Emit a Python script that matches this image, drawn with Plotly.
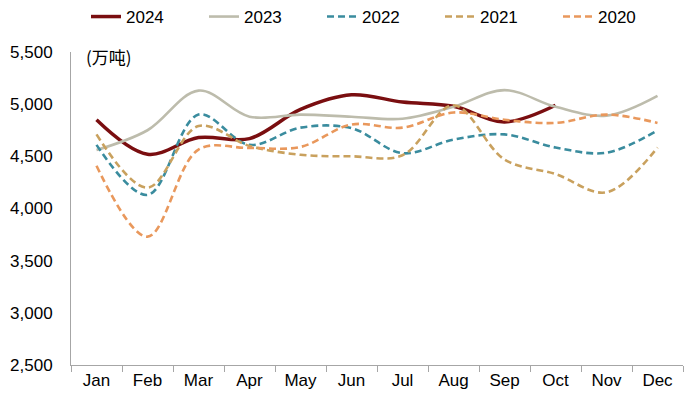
import plotly.graph_objects as go

months = ["Jan", "Feb", "Mar", "Apr", "May", "Jun", "Jul", "Aug", "Sep", "Oct", "Nov", "Dec"]
y2024 = [4850, 4520, 4680, 4670, 4950, 5090, 5020, 4980, 4830, 4990]
y2023 = [4560, 4750, 5130, 4880, 4900, 4880, 4860, 4975, 5135, 4975, 4890, 5080]
y2022 = [4610, 4130, 4900, 4610, 4775, 4770, 4530, 4660, 4710, 4585, 4535, 4750]
y2021 = [4710, 4200, 4790, 4600, 4515, 4500, 4510, 4990, 4470, 4330, 4155, 4585]
y2020 = [4410, 3730, 4565, 4580, 4590, 4805, 4775, 4920, 4850, 4820, 4900, 4820]

series = [
    ("2024", y2024, "#7A0E10", "solid", 3.5),
    ("2023", y2023, "#BDBCAC", "solid", 2.6),
    ("2022", y2022, "#3A8C9E", "7px,4px", 2.6),
    ("2021", y2021, "#C9A15E", "7px,4px", 2.6),
    ("2020", y2020, "#E9985C", "7px,4px", 2.6),
]

fig = go.Figure()
for name, vals, color, dash, width in series:
    fig.add_trace(go.Scatter(
        x=months[:len(vals)], y=vals, name=name, mode="lines",
        line=dict(color=color, dash=dash, width=width, shape="spline", smoothing=1.0),
    ))

font = "Liberation Sans, Arial, sans-serif"
fig.update_layout(
    width=700, height=407,
    margin=dict(l=63, r=25, t=44, b=50, autoexpand=False),
    paper_bgcolor="white", plot_bgcolor="white",
    font=dict(family=font, size=17, color="#000000"),
    showlegend=True,
    legend=dict(orientation="h", x=78 / 700, xref="container", xanchor="left",
                y=1 - 9 / 407, yref="container", yanchor="middle",
                font=dict(size=17), traceorder="normal",
                entrywidth=73, entrywidthmode="pixels",
                bgcolor="rgba(0,0,0,0)"),
    xaxis=dict(type="category", categoryorder="array", categoryarray=months,
               range=[-0.5, 11.5], showline=True, linecolor="#A6A6A6", linewidth=1,
               ticks="outside", tickson="boundaries", ticklen=6, tickcolor="#A6A6A6",
               showgrid=False, tickfont=dict(size=17), automargin=False),
    yaxis=dict(range=[2500, 5500], dtick=500, tickformat=",", showline=True,
               linecolor="#A6A6A6", linewidth=1, showgrid=False, zeroline=False,
               ticks="", tickfont=dict(size=17), ticklabelstandoff=14, automargin=False),
    annotations=[dict(text="(万吨)", x=0, xref="paper", xanchor="left", xshift=13,
                      y=5500, yref="y", yanchor="middle", yshift=-4, showarrow=False,
                      font=dict(family="Noto Sans CJK SC, " + font, size=17))],
)

fig.write_html("out.html")
